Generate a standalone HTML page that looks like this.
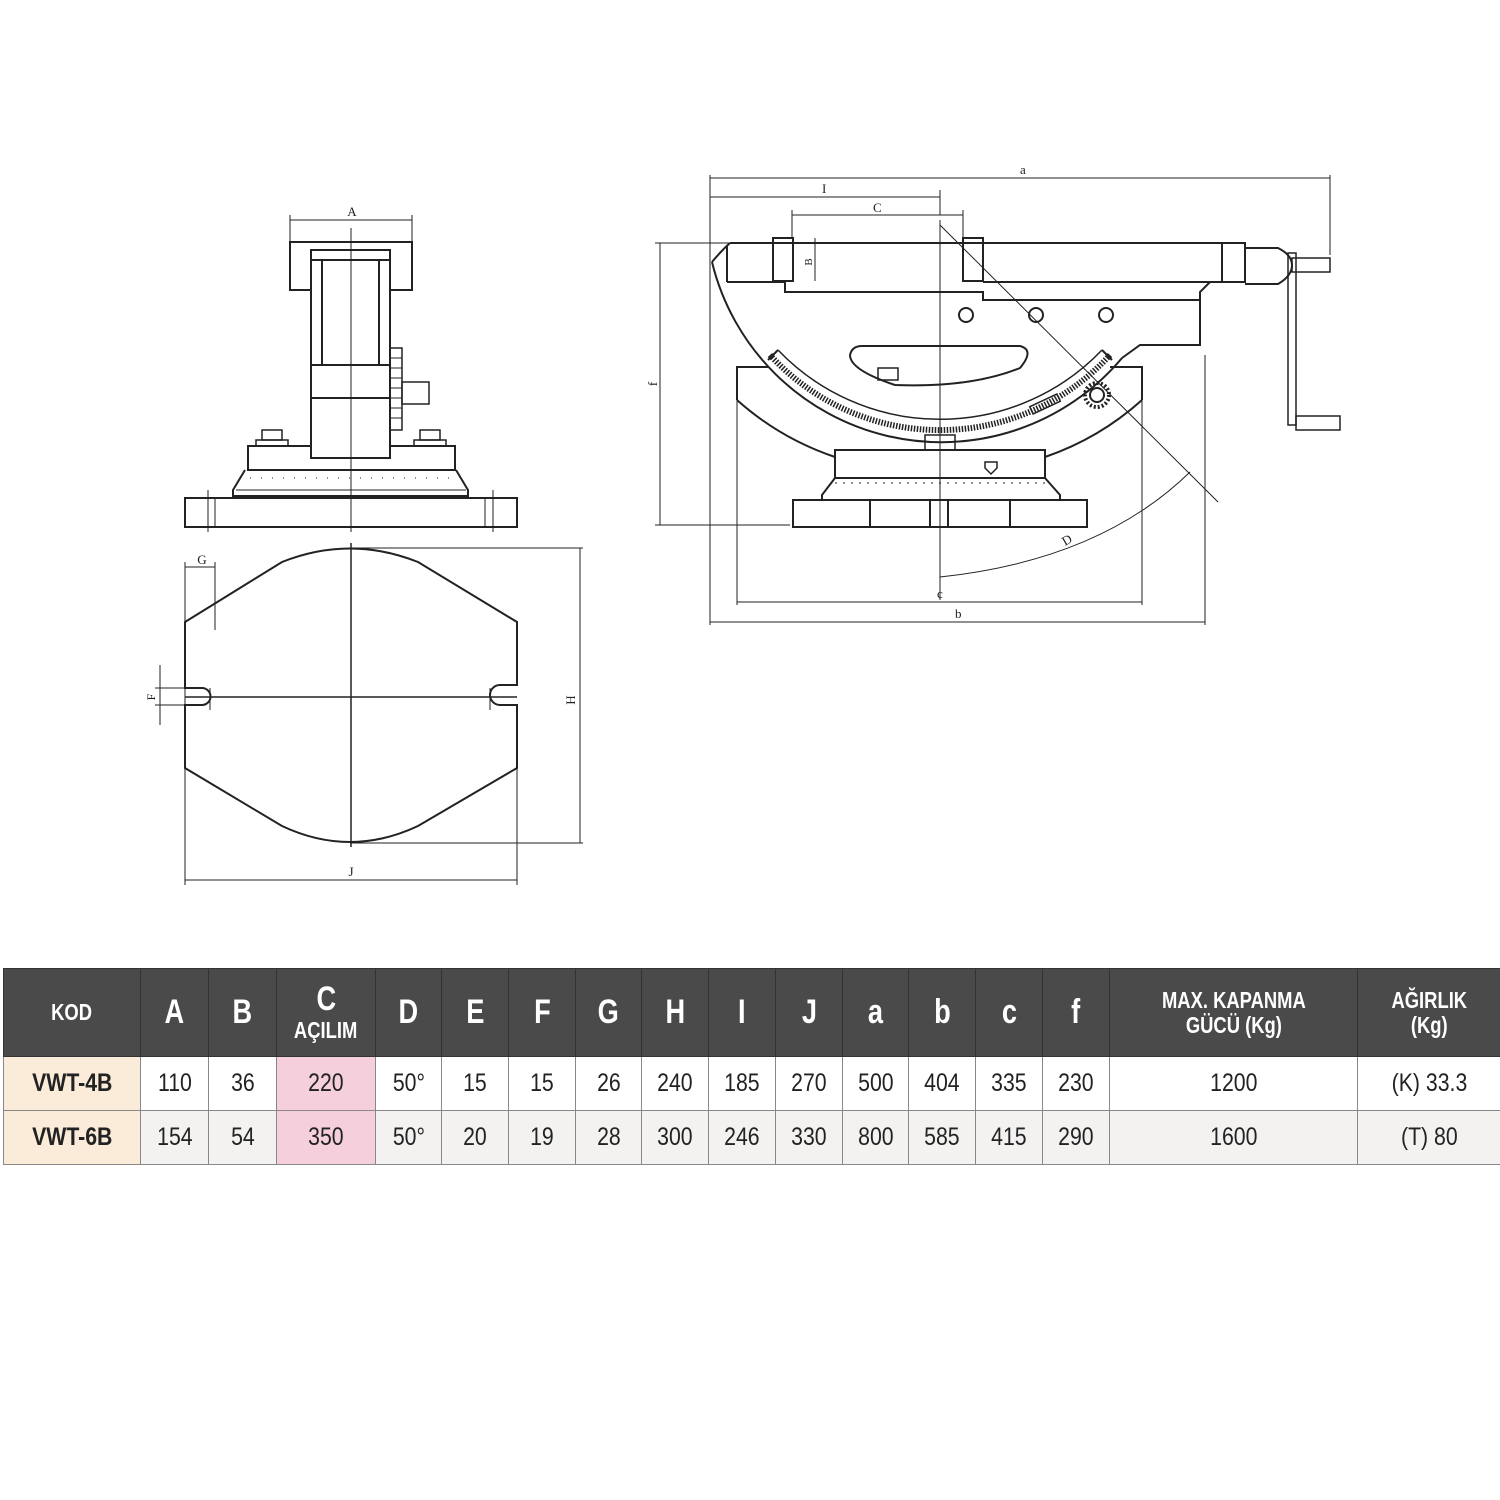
<!DOCTYPE html>
<html><head><meta charset="utf-8"><style>
body{margin:0;width:1500px;height:1500px;background:#fff;position:relative;overflow:hidden;font-family:"Liberation Sans",sans-serif}
svg{position:absolute;left:0;top:0}
table{position:absolute;left:3px;top:968px;border-collapse:collapse;table-layout:fixed;width:1497px}
td{border:1px solid #888;text-align:center;padding:0;overflow:hidden;white-space:nowrap}
.h td{background:#4a4a4a;color:#fff;font-weight:bold;height:87px;border-color:#333;line-height:1.05}
.h span{display:inline-block;transform:scaleX(.8)}
.r td{height:53px;font-size:25px;color:#222}
.r span{display:inline-block;transform:scaleX(.85)}
.r2 td{background:#f3f2f1}
td.k{background:#fbebd9!important;font-weight:bold}
td.c{background:#f5cfdb!important}
.big{font-size:34px}.sm{font-size:23px}
</style></head><body>
<svg width="1500" height="960" viewBox="0 0 1500 960" fill="none" stroke="#222" stroke-width="2" font-family="Liberation Serif,serif">
<!-- LEFT FRONT VIEW -->
<g>
<line x1="290" y1="215" x2="290" y2="242" stroke-width="1"/><line x1="412" y1="215" x2="412" y2="242" stroke-width="1"/>
<line x1="290" y1="220" x2="412" y2="220" stroke-width="1"/>
<text x="352" y="216" font-size="13" fill="#222" stroke="none" text-anchor="middle">A</text>
<path d="M311 290 H290 V242 H412 V290 H390"/>
<rect x="311" y="250" width="79" height="208"/>
<line x1="311" y1="260" x2="390" y2="260"/>
<line x1="322" y1="260" x2="322" y2="365"/><line x1="379" y1="260" x2="379" y2="365"/>
<line x1="311" y1="365" x2="390" y2="365"/><line x1="311" y1="398" x2="390" y2="398"/>
<rect x="390" y="348" width="12" height="82" stroke-width="1.5"/>
<path d="M390 358h12M390 368h12M390 378h12M390 388h12M390 398h12M390 408h12M390 418h12" stroke-width="1"/>
<rect x="402" y="382" width="27" height="22" stroke-width="1.5"/>
<path d="M311 446 H248 V470 H455 V446 H390"/>
<rect x="256" y="440" width="32" height="6" stroke-width="1.5"/><rect x="262" y="430" width="20" height="10" stroke-width="1.5"/>
<rect x="414" y="440" width="32" height="6" stroke-width="1.5"/><rect x="420" y="430" width="20" height="10" stroke-width="1.5"/>
<path d="M245 470 L233 490 V496 H468 V490 L456 470"/>
<line x1="236" y1="490" x2="466" y2="490" stroke-width="1"/>
<path d="M250 478h200" stroke-width="1" stroke-dasharray="1 10"/>
<rect x="185" y="498" width="332" height="29"/>
<path d="M208 490v42M215 498v29M485 498v29M493 490v42" stroke-width="1"/>
<line x1="351" y1="228" x2="351" y2="532" stroke-width="1"/>
</g>
<!-- TOP VIEW -->
<g>
<path d="M185 622 L282 562 Q350 535 418 562 L517 622 V685 H500 A8 8 0 0 0 500 705 H517 V768 L418 826 Q350 858 282 826 L185 768 V705 H202 A8 8 0 0 0 202 688 H185 Z"/>
<line x1="185" y1="697" x2="517" y2="697" stroke-width="1.5"/>
<line x1="351" y1="543" x2="351" y2="847" stroke-width="1.5"/>
<path d="M210 688 V710 M490 688 V710" stroke-width="1"/>
<line x1="185" y1="562" x2="185" y2="885" stroke-width="1"/><line x1="215" y1="562" x2="215" y2="630" stroke-width="1"/>
<line x1="185" y1="567" x2="215" y2="567" stroke-width="1"/>
<text x="202" y="564" font-size="13" fill="#222" stroke="none" text-anchor="middle">G</text>
<line x1="517" y1="760" x2="517" y2="885" stroke-width="1"/>
<line x1="185" y1="880" x2="517" y2="880" stroke-width="1"/>
<text x="351" y="876" font-size="13" fill="#222" stroke="none" text-anchor="middle">J</text>
<path d="M350 548 H583 M350 843 H583 M580 548 V843" stroke-width="1"/>
<text x="575" y="700" font-size="13" fill="#222" stroke="none" transform="rotate(-90 575 700)" text-anchor="middle">H</text>
<path d="M155 688 H185 M155 705 H185 M160 665 V725" stroke-width="1"/>
<text x="155" y="697" font-size="12" fill="#222" stroke="none" transform="rotate(-90 155 697)" text-anchor="middle">F</text>
</g>
<!-- RIGHT SIDE VIEW -->
<g>
<path d="M710 175 V625 M1330 175 V255 M940 190 V215 M792 210 V238 M963 210 V238 M1205 355 V625 M737 400 V605 M1142 400 V605" stroke-width="1"/>
<line x1="710" y1="178" x2="1330" y2="178" stroke-width="1"/><text x="1020" y="174" font-size="13" fill="#222" stroke="none">a</text>
<line x1="710" y1="197" x2="940" y2="197" stroke-width="1"/><text x="822" y="193" font-size="13" fill="#222" stroke="none">I</text>
<line x1="792" y1="215" x2="963" y2="215" stroke-width="1"/><text x="873" y="212" font-size="13" fill="#222" stroke="none">C</text>
<path d="M655 243 H730 M655 525 H790 M660 243 V525" stroke-width="1"/>
<text x="657" y="384" font-size="13" fill="#222" stroke="none" transform="rotate(-90 657 384)" text-anchor="middle">f</text>
<line x1="710" y1="622" x2="1205" y2="622" stroke-width="1"/><text x="955" y="618" font-size="13" fill="#222" stroke="none">b</text>
<line x1="737" y1="602" x2="1142" y2="602" stroke-width="1"/><text x="937" y="598" font-size="13" fill="#222" stroke="none">c</text>
<path d="M940 577 Q1100 560 1190 472" stroke-width="1"/><text x="1065" y="546" font-size="13" fill="#222" stroke="none" transform="rotate(-30 1065 546)">D</text>
<line x1="940" y1="225" x2="1218" y2="502" stroke-width="1"/>
<line x1="940" y1="220" x2="940" y2="600" stroke-width="1"/>
<!-- body -->
<path d="M730 243 H1245 V282 H1210 L1200 292 V345 H1140 L1122 358"/>
<path d="M730 243 Q722 250 712 262"/>
<line x1="727" y1="246" x2="727" y2="282"/>
<path d="M727 282 H785 V292 H983 V300 H1200"/>
<path d="M983 282 H1210"/>
<path d="M712 262 A236 236 0 0 0 1122 358"/>
<rect x="773" y="238" width="20" height="43"/><rect x="963" y="238" width="20" height="43"/>
<path d="M815 238 V281" stroke-width="1"/><text x="812" y="262" font-size="11" fill="#222" stroke="none" transform="rotate(-90 812 262)" text-anchor="middle">B</text>
<line x1="1222" y1="243" x2="1222" y2="282"/>
<circle cx="966" cy="315" r="7"/><circle cx="1036" cy="315" r="7"/><circle cx="1106" cy="315" r="7"/>
<path d="M862 346 H1020 Q1035 350 1020 368 Q970 388 895 385 Q850 370 850 355 Q852 346 862 346 Z"/>
<rect x="878" y="368" width="20" height="12" stroke-width="1.5"/>
<!-- rack -->
<path d="M770 355 A230 230 0 0 0 1110 355" stroke-width="6" stroke-dasharray="1.5 1.5"/>
<path d="M768 360 L778 350 M1102 350 L1112 360" />
<path d="M778 350 A224 224 0 0 0 1102 350" stroke-width="1.5"/>
<circle cx="1097" cy="395" r="12" stroke-width="4" stroke-dasharray="2 2"/><circle cx="1097" cy="395" r="7"/>
<rect x="1030" y="400" width="30" height="8" transform="rotate(-25 1045 404)" stroke-width="1.5"/>
<!-- cradle -->
<path d="M737 400 V367 H768 M1110 367 H1142 V400"/>
<path d="M737 400 A282 282 0 0 0 835 457 M1045 457 A282 282 0 0 0 1142 400"/>
<rect x="925" y="435" width="30" height="15" stroke-width="1.5"/>
<rect x="835" y="450" width="210" height="28"/>
<path d="M985 462 h12 v6 l-6 6 l-6 -6 z" stroke-width="1.5"/>
<path d="M835 478 L822 495 V500 H1060 V495 L1045 478"/>
<path d="M835 483h210" stroke-width="1" stroke-dasharray="2 6"/>
<rect x="793" y="500" width="294" height="27"/>
<path d="M870 500v27M930 500v27M948 500v27M1010 500v27"/>
<!-- handle -->
<path d="M1245 248 H1278 Q1292 255 1292 265 Q1292 276 1278 284 H1245"/>
<rect x="1292" y="258" width="38" height="14" stroke-width="1.5"/>
<rect x="1288" y="253" width="8" height="172" stroke-width="1.5"/>
<rect x="1296" y="416" width="44" height="14" stroke-width="1.5"/>
</g>
</svg>
<table>
<colgroup><col style="width:137px"><col style="width:68px"><col style="width:68px"><col style="width:99px"><col style="width:66px"><col style="width:67px"><col style="width:67px"><col style="width:66px"><col style="width:67px"><col style="width:67px"><col style="width:67px"><col style="width:66px"><col style="width:67px"><col style="width:67px"><col style="width:67px"><col style="width:248px"><col style="width:143px"></colgroup>
<tr class="h"><td class="sm"><span>KOD</span></td><td class="big"><span>A</span></td><td class="big"><span>B</span></td><td><span class="big">C</span><br><span class="sm">AÇILIM</span></td><td class="big"><span>D</span></td><td class="big"><span>E</span></td><td class="big"><span>F</span></td><td class="big"><span>G</span></td><td class="big"><span>H</span></td><td class="big"><span>I</span></td><td class="big"><span>J</span></td><td class="big"><span>a</span></td><td class="big"><span>b</span></td><td class="big"><span>c</span></td><td class="big"><span>f</span></td><td class="sm"><span>MAX. KAPANMA<br>GÜCÜ (Kg)</span></td><td class="sm"><span>AĞIRLIK<br>(Kg)</span></td></tr>
<tr class="r"><td class="k"><span>VWT-4B</span></td><td><span>110</span></td><td><span>36</span></td><td class="c"><span>220</span></td><td><span>50°</span></td><td><span>15</span></td><td><span>15</span></td><td><span>26</span></td><td><span>240</span></td><td><span>185</span></td><td><span>270</span></td><td><span>500</span></td><td><span>404</span></td><td><span>335</span></td><td><span>230</span></td><td><span>1200</span></td><td><span>(K) 33.3</span></td></tr>
<tr class="r r2"><td class="k"><span>VWT-6B</span></td><td><span>154</span></td><td><span>54</span></td><td class="c"><span>350</span></td><td><span>50°</span></td><td><span>20</span></td><td><span>19</span></td><td><span>28</span></td><td><span>300</span></td><td><span>246</span></td><td><span>330</span></td><td><span>800</span></td><td><span>585</span></td><td><span>415</span></td><td><span>290</span></td><td><span>1600</span></td><td><span>(T) 80</span></td></tr>
</table>
</body></html>
